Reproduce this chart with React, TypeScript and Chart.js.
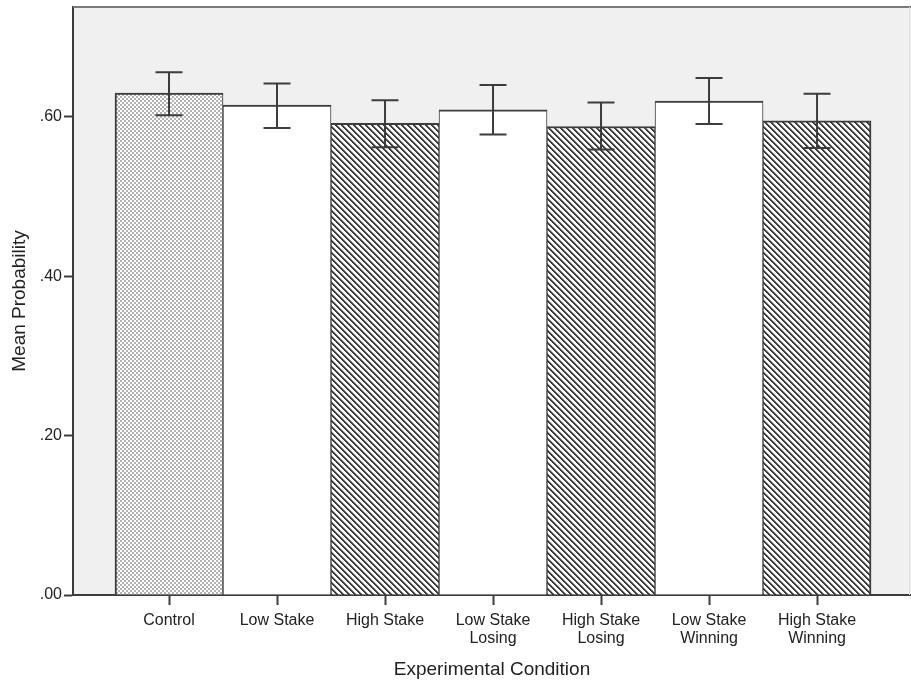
import React, { useEffect, useRef } from 'react';
import { Chart, registerables } from 'chart.js';

Chart.register(...registerables);

// ---- data ----
const categories: string[][] = [
  ['Control'],
  ['Low Stake'],
  ['High Stake'],
  ['Low Stake', 'Losing'],
  ['High Stake', 'Losing'],
  ['Low Stake', 'Winning'],
  ['High Stake', 'Winning'],
];
const meanValues = [0.630, 0.615, 0.592, 0.609, 0.588, 0.620, 0.595];
const ciLower = [0.602, 0.586, 0.562, 0.578, 0.559, 0.591, 0.561];
const ciUpper = [0.656, 0.642, 0.621, 0.640, 0.618, 0.649, 0.629];
const fillKinds = ['dots', 'plain', 'hatch', 'plain', 'hatch', 'plain', 'hatch'];
const yTickValues = [0, 0.2, 0.4, 0.6];

const FONT = '"Liberation Sans", Arial, Helvetica, sans-serif';
const INK = '#3c3c3c';

function makeDots(): CanvasPattern | string {
  const c = document.createElement('canvas');
  c.width = 4;
  c.height = 4;
  const g = c.getContext('2d');
  if (!g) return '#d8d8d8';
  g.fillStyle = '#ffffff';
  g.fillRect(0, 0, 4, 4);
  g.fillStyle = '#b2b2b2';
  g.fillRect(0, 0, 2, 2);
  g.fillRect(2, 2, 2, 2);
  return g.createPattern(c, 'repeat') || '#d8d8d8';
}

function makeHatch(): CanvasPattern | string {
  const n = 6;
  const c = document.createElement('canvas');
  c.width = n;
  c.height = n;
  const g = c.getContext('2d');
  if (!g) return '#999';
  for (let y = 0; y < n; y++) {
    for (let x = 0; x < n; x++) {
      const d = (((x - y) % n) + n) % n;
      g.fillStyle = d < 2 ? '#3a3a3a' : d === 2 ? '#9a9a9a' : '#ffffff';
      g.fillRect(x, y, 1, 1);
    }
  }
  return g.createPattern(c, 'repeat') || '#999';
}

const plotBgPlugin = {
  id: 'plotBg',
  beforeDraw(chart: any) {
    const { ctx, chartArea } = chart;
    ctx.save();
    ctx.fillStyle = '#f0f0f0';
    ctx.fillRect(chartArea.left, chartArea.top, chartArea.right - chartArea.left, chartArea.bottom - chartArea.top);
    ctx.restore();
  },
  afterDraw(chart: any) {
    const { ctx, chartArea } = chart;
    ctx.save();
    ctx.strokeStyle = '#7a7a7a';
    ctx.lineWidth = 2;
    ctx.beginPath();
    ctx.moveTo(chartArea.left, chartArea.top);
    ctx.lineTo(chartArea.right, chartArea.top);
    ctx.stroke();
    ctx.strokeStyle = '#dcdcdc';
    ctx.lineWidth = 1;
    ctx.beginPath();
    ctx.moveTo(chartArea.right - 1.5, chartArea.top);
    ctx.lineTo(chartArea.right - 1.5, chartArea.bottom);
    ctx.stroke();
    ctx.restore();
  },
};

const errorBarPlugin = {
  id: 'errorBars',
  afterDatasetsDraw(chart: any) {
    const { ctx } = chart;
    const x = chart.scales.x;
    const y = chart.scales.y;
    ctx.save();
    ctx.strokeStyle = INK;
    ctx.lineWidth = 2;
    const half = 13.5;
    meanValues.forEach((_, i) => {
      const px = x.getPixelForValue(i);
      const top = y.getPixelForValue(ciUpper[i]);
      const bot = y.getPixelForValue(ciLower[i]);
      ctx.beginPath();
      ctx.moveTo(px, top);
      ctx.lineTo(px, bot);
      ctx.moveTo(px - half, top);
      ctx.lineTo(px + half, top);
      ctx.moveTo(px - half, bot);
      ctx.lineTo(px + half, bot);
      ctx.stroke();
    });
    ctx.restore();
  },
};

export default function App() {
  const canvasRef = useRef<HTMLCanvasElement | null>(null);

  useEffect(() => {
    const canvas = canvasRef.current;
    if (!canvas) return;
    const dots = makeDots();
    const hatch = makeHatch();
    const fills = fillKinds.map((k) => (k === 'dots' ? dots : k === 'hatch' ? hatch : '#ffffff'));
    const n = meanValues.length;

    const chart = new Chart(canvas, {
      type: 'bar',
      data: {
        datasets: [
          {
            data: meanValues.map((v, i) => ({ x: i, y: v })) as any,
            backgroundColor: fills as any,
            borderColor: INK,
            borderWidth: ((ctx: any) => ({
              top: 2,
              left: ctx.dataIndex === 0 ? 2 : 1,
              right: ctx.dataIndex === n - 1 ? 2 : 1,
              bottom: 0,
            })) as any,
            borderSkipped: false,
            barPercentage: 1,
            categoryPercentage: 1,
          },
        ],
      },
      options: {
        animation: false,
        responsive: false,
        layout: { padding: { top: 7, right: 0, left: 0, bottom: 0 } },
        plugins: {
          legend: { display: false },
          tooltip: { enabled: false },
        },
        scales: {
          x: {
            type: 'linear',
            min: -0.889,
            max: 6.87,
            offset: false,
            afterBuildTicks: (s: any) => {
              s.ticks = categories.map((_, i) => ({ value: i }));
            },
            afterFit: (s: any) => {
              s.height = 89;
              s.paddingLeft = 0;
              s.paddingRight = 0;
            },
            grid: {
              display: true,
              drawOnChartArea: false,
              drawTicks: true,
              tickLength: 10,
              tickWidth: 2,
              tickColor: INK,
              offset: false,
            },
            border: { display: true, color: INK, width: 2 },
            ticks: {
              autoSkip: false,
              maxRotation: 0,
              minRotation: 0,
              padding: 7,
              color: '#222',
              font: { family: FONT, size: 16, lineHeight: 1.1 },
              callback: (v: any) => categories[Number(v)] ?? '',
            },
            title: {
              display: true,
              text: 'Experimental Condition',
              color: '#222',
              font: { family: FONT, size: 19 },
              padding: { top: 0, bottom: 3 },
            },
          },
          y: {
            type: 'linear',
            min: 0,
            max: 0.738,
            afterBuildTicks: (s: any) => {
              s.ticks = yTickValues.map((v) => ({ value: v }));
            },
            afterFit: (s: any) => {
              s.width = 73;
              s.paddingTop = 0;
              s.paddingBottom = 0;
            },
            grid: {
              display: true,
              drawOnChartArea: false,
              drawTicks: true,
              tickLength: 9,
              tickWidth: 2,
              tickColor: INK,
            },
            border: { display: true, color: INK, width: 2 },
            ticks: {
              padding: 2,
              color: '#222',
              font: { family: FONT, size: 16 },
              callback: (v: any) => Number(v).toFixed(2).replace(/^0/, ''),
            },
            title: {
              display: true,
              text: 'Mean Probability',
              color: '#222',
              font: { family: FONT, size: 19 },
              padding: { top: 8, bottom: 0 },
            },
          },
        },
      },
      plugins: [plotBgPlugin, errorBarPlugin],
    });

    return () => {
      chart.destroy();
    };
  }, []);

  return (
    <div style={{ position: 'absolute', left: 0, top: 0, width: 911, height: 684, background: '#ffffff' }}>
      <canvas ref={canvasRef} width={911} height={684} />
    </div>
  );
}
